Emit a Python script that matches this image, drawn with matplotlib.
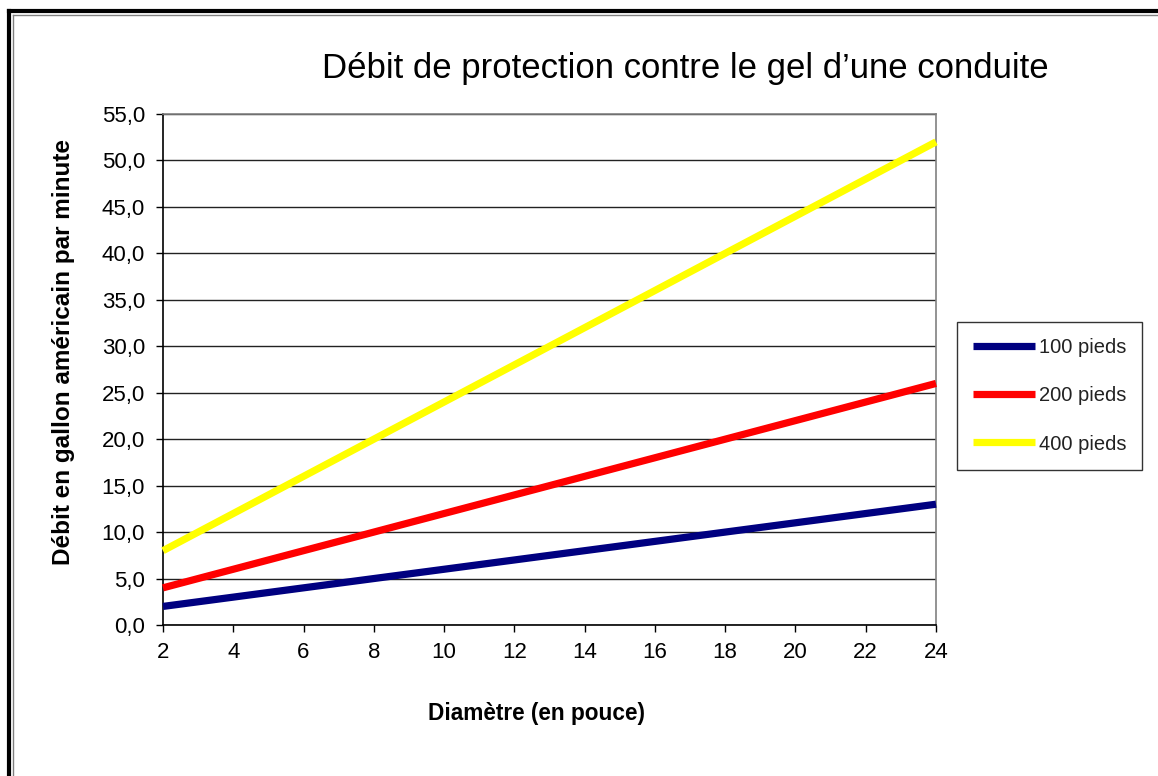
import matplotlib
matplotlib.use("Agg")
import matplotlib.pyplot as plt
from matplotlib.lines import Line2D
from matplotlib.ticker import FuncFormatter

plt.rcParams['font.family'] = ['Liberation Sans', 'DejaVu Sans']

diametres = [2, 4, 6, 8, 10, 12, 14, 16, 18, 20, 22, 24]
debit_100 = [2, 3, 4, 5, 6, 7, 8, 9, 10, 11, 12, 13]
debit_200 = [4, 6, 8, 10, 12, 14, 16, 18, 20, 22, 24, 26]
debit_400 = [8, 12, 16, 20, 24, 28, 32, 36, 40, 44, 48, 52]
series_labels = ["100 pieds", "200 pieds", "400 pieds"]
series_colors = ["#000080", "#FF0000", "#FFFF00"]
y_ticks = [0, 5, 10, 15, 20, 25, 30, 35, 40, 45, 50, 55]

W, H = 1158, 776
fig = plt.figure(figsize=(W / 100, H / 100), dpi=100)
ax = fig.add_axes([163 / W, 1 - 625 / H, (936 - 163) / W, (625 - 114) / H])

handles = []
for vals, lab, col in zip([debit_100, debit_200, debit_400], series_labels, series_colors):
    h, = ax.plot(diametres, vals, color=col, lw=5.2, solid_capstyle='butt', label=lab, clip_on=False, zorder=3)
    handles.append(h)

ax.set_xlim(2, 24)
ax.set_ylim(0, 55)
ax.set_xticks(diametres)
ax.set_yticks(y_ticks)
ax.yaxis.set_major_formatter(FuncFormatter(lambda v, p: f"{v:.1f}".replace('.', ',')))
ax.tick_params(axis='both', direction='out', length=5, width=1, color='black', labelsize=16, labelcolor='black')
ax.tick_params(axis='x', pad=7)
ax.tick_params(axis='y', pad=8)
ax.grid(axis='y', color='#222222', lw=1)
ax.set_axisbelow(True)
ax.spines['left'].set_color('black')
ax.spines['bottom'].set_color('black')
ax.spines['right'].set_color('#808080')
ax.spines['top'].set_color('#808080')
for s in ax.spines.values():
    s.set_linewidth(1.2)

fig.text(685 / W, 1 - 78 / H, "Débit de protection contre le gel d\u2019une conduite", ha='center', va='baseline', fontsize=25)
fig.text(64 / W, 1 - 352 / H, "Débit en gallon américain par minute", ha='center', va='center', rotation=90, fontsize=17.5, fontweight='bold')
fig.text(536 / W, 1 - 720 / H, "Diamètre (en pouce)", ha='center', va='baseline', fontsize=16.3, fontweight='bold')

leg = fig.legend(handles=handles, labels=series_labels, loc='upper left',
                 bbox_to_anchor=(957 / W, 1 - 322 / H), bbox_transform=fig.transFigure,
                 frameon=True, fancybox=False, edgecolor='black', fontsize=14.5,
                 handlelength=3.05, handletextpad=0.2, labelspacing=1.45,
                 borderpad=0.8, borderaxespad=0)
leg.get_frame().set_linewidth(1.0)
for t in leg.get_texts():
    t.set_color('#222222')

# outer frame (partially visible)
fig.add_artist(Line2D([9 / W, 9 / W], [0, 1 - 11 / H], transform=fig.transFigure, color='black', lw=3))
fig.add_artist(Line2D([9 / W, 1], [1 - 11 / H, 1 - 11 / H], transform=fig.transFigure, color='black', lw=3))
fig.add_artist(Line2D([12.5 / W, 12.5 / W], [0, 1 - 14.5 / H], transform=fig.transFigure, color='#808080', lw=1))
fig.add_artist(Line2D([12.5 / W, 1], [1 - 14.5 / H, 1 - 14.5 / H], transform=fig.transFigure, color='#808080', lw=1))

fig.savefig("out.png", dpi=100)
